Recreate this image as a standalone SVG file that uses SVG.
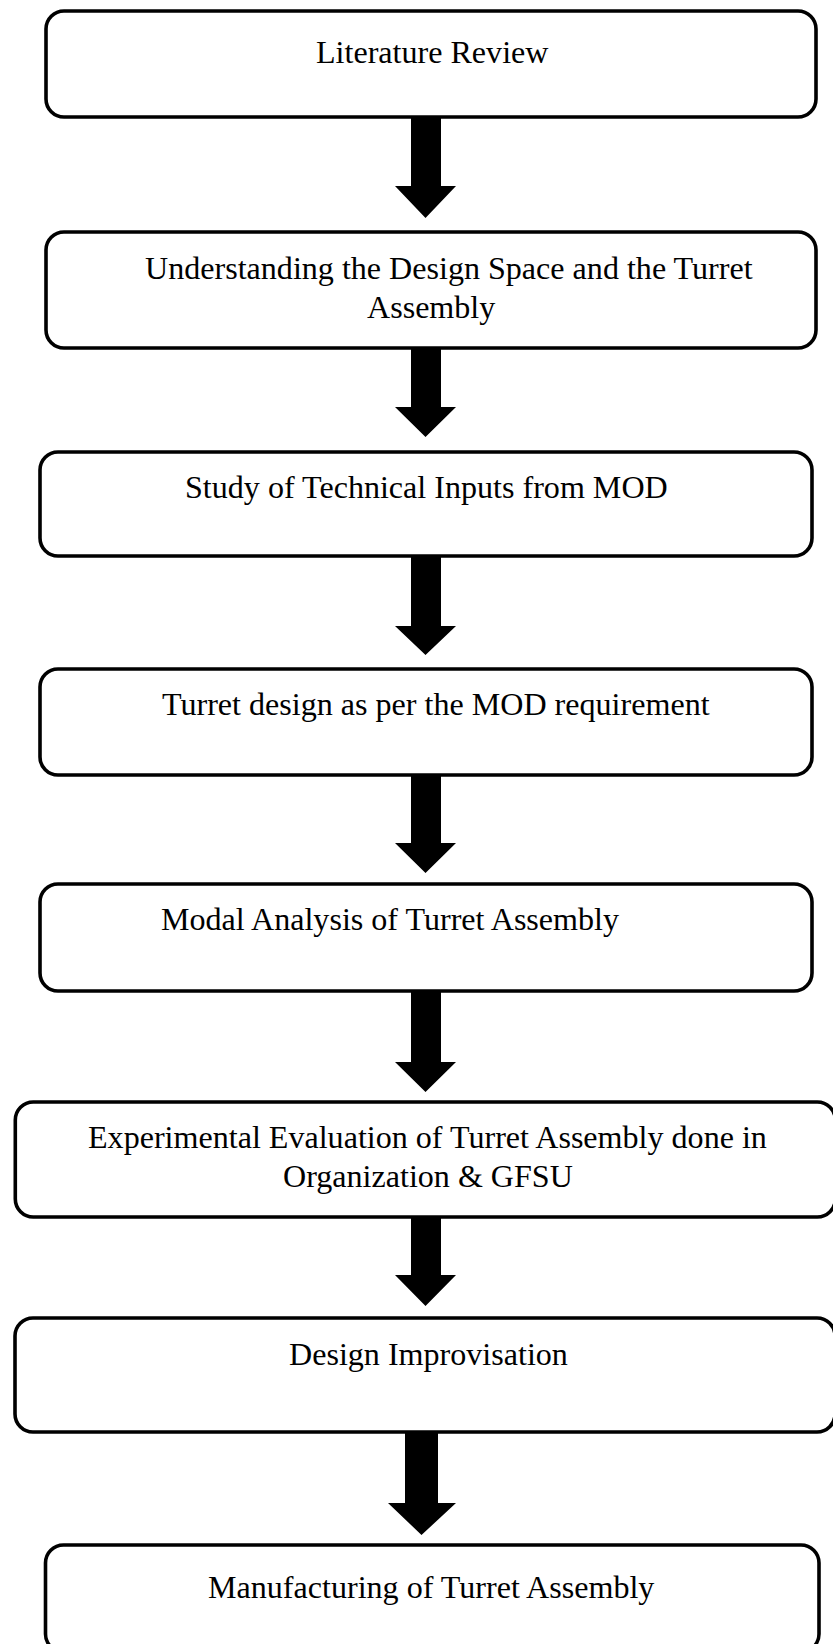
<svg xmlns="http://www.w3.org/2000/svg" width="833" height="1644" viewBox="0 0 833 1644">
<style>
.box{fill:#fff;stroke:#000;stroke-width:3.6}
.t{font-family:"Liberation Serif","Times New Roman",serif;font-size:32.1px;fill:#000}
.arr{fill:#000}
</style>
<rect width="833" height="1644" fill="#fff"/>
<g id="connectors">
<polygon class="arr" points="411,117 441,117 441,186 456,186 425.5,218 395,186 411,186"/>
<polygon class="arr" points="411,348 441,348 441,407 456,407 425.5,437 395,407 411,407"/>
<polygon class="arr" points="411,556 441,556 441,626 456,626 425.5,655 395,626 411,626"/>
<polygon class="arr" points="411,775 441,775 441,843 456,843 425.5,873 395,843 411,843"/>
<polygon class="arr" points="411,991 441,991 441,1062 456,1062 425.5,1092 395,1062 411,1062"/>
<polygon class="arr" points="411,1217 441,1217 441,1275 456,1275 425.5,1306 395,1275 411,1275"/>
<polygon class="arr" points="405,1432 438,1432 438,1503 456,1503 421.5,1535 388,1503 405,1503"/>
</g>
<g id="n1"><rect class="box" x="46" y="11" width="770" height="106" rx="18"/><text class="t" x="316" y="63">Literature Review</text></g>
<g id="n2"><rect class="box" x="46" y="232" width="770" height="116" rx="18"/><text class="t" x="145" y="279">Understanding the Design Space and the Turret</text><text class="t" x="367" y="318">Assembly</text></g>
<g id="n3"><rect class="box" x="40" y="452" width="772" height="104" rx="18"/><text class="t" x="185" y="498">Study of Technical Inputs from MOD</text></g>
<g id="n4"><rect class="box" x="40" y="669" width="772" height="106" rx="18"/><text class="t" x="162" y="715">Turret design as per the MOD requirement</text></g>
<g id="n5"><rect class="box" x="40" y="884" width="772" height="107" rx="18"/><text class="t" x="161" y="930">Modal Analysis of Turret Assembly</text></g>
<g id="n6"><rect class="box" x="15.3" y="1102" width="820" height="115" rx="18"/><text class="t" x="88" y="1148">Experimental Evaluation of Turret Assembly done in</text><text class="t" x="283" y="1187">Organization &amp; GFSU</text></g>
<g id="n7"><rect class="box" x="15" y="1318" width="820" height="114" rx="18"/><text class="t" x="289" y="1365">Design Improvisation</text></g>
<g id="n8"><rect class="box" x="45.5" y="1545" width="773.5" height="107" rx="18"/><text class="t" x="208" y="1598">Manufacturing of Turret Assembly</text></g>
</svg>
